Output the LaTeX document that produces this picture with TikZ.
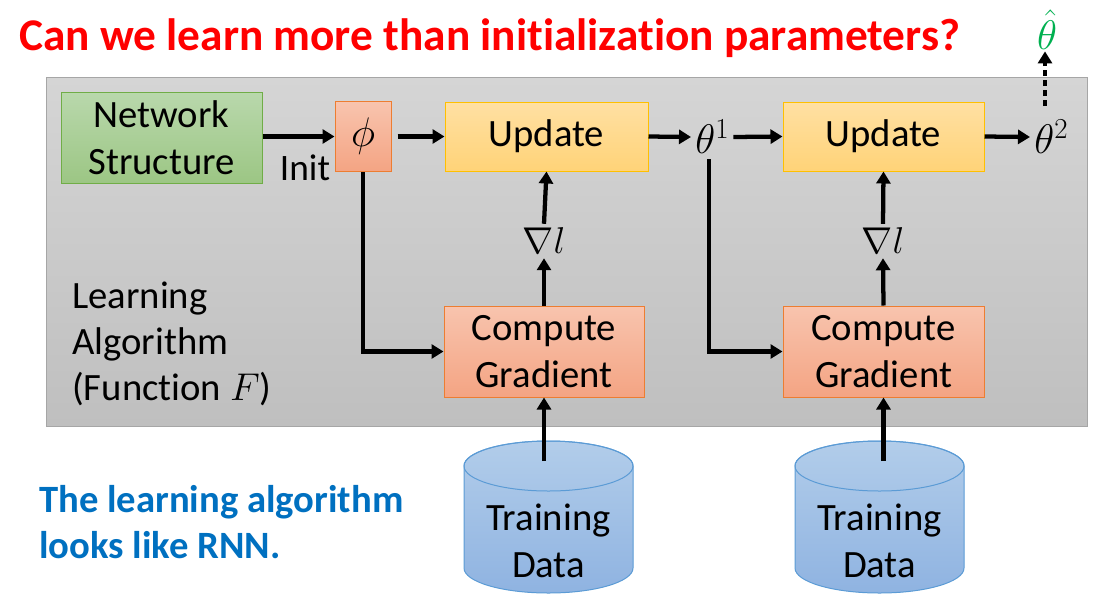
\RequirePackage{fix-cm}
\documentclass[tikz,border=0pt]{standalone}
\usepackage{fontspec}
\setmainfont{Carlito}[Ligatures=NoCommon]
\usetikzlibrary{arrows.meta,calc}

% palette
\definecolor{panelTop}{HTML}{D5D5D5}
\definecolor{panelBot}{HTML}{BFBFBF}
\definecolor{panelLine}{HTML}{A6A6A6}
\definecolor{grnTop}{HTML}{B9D8AC}
\definecolor{grnBot}{HTML}{9CC684}
\definecolor{grnLine}{HTML}{70AD47}
\definecolor{orgTop}{HTML}{F8C4AE}
\definecolor{orgBot}{HTML}{F4A483}
\definecolor{orgLine}{HTML}{ED7D31}
\definecolor{ylwTop}{HTML}{FFE0A3}
\definecolor{ylwBot}{HTML}{FFD378}
\definecolor{ylwLine}{HTML}{FFC000}
\definecolor{cylTop}{HTML}{B2CDEA}
\definecolor{cylBot}{HTML}{8FB3E1}
\definecolor{cylLine}{HTML}{5B9BD5}
\definecolor{titleRed}{HTML}{FF0000}
\definecolor{noteBlue}{HTML}{0070C0}
\definecolor{hatGreen}{HTML}{00B050}

\newcommand{\boxfont}{\fontsize{29}{35}\selectfont}
\newcommand{\mathlblfont}{\fontsize{28}{34}\selectfont}
\newcommand{\thetafont}{\fontsize{31}{36}\selectfont}

\tikzset{
  box/.style={draw, line width=0.75pt, inner sep=0pt, align=center, font=\boxfont},
  netbox/.style={box, draw=grnLine, top color=grnTop, bottom color=grnBot},
  orgbox/.style={box, draw=orgLine, top color=orgTop, bottom color=orgBot},
  updbox/.style={box, draw=ylwLine, top color=ylwTop, bottom color=ylwBot},
  lbl/.style={inner sep=1pt, font=\boxfont},
  mlbl/.style={inner sep=3pt, font=\mathlblfont},
  arr/.style={line width=3.2pt, -{Triangle[length=9pt,width=10.5pt]}},
  dotarr/.style={line width=3.2pt, dash pattern=on 4.5pt off 3pt, -{Triangle[length=9pt,width=10.5pt]}},
  cylfill/.style={top color=cylTop, bottom color=cylBot, draw=cylLine, line width=0.75pt},
}

\begin{document}
\begin{tikzpicture}[x=0.75pt,y=-0.75pt]
\useasboundingbox (0,0) rectangle (1109,611);

% heading
\node[anchor=base west, inner sep=0pt, text=titleRed,
      font=\fontsize{34}{40}\selectfont\bfseries] (title) at (19,50)
  {Can we learn more than initialization parameters?};

% learning-algorithm panel
\path[draw=panelLine, line width=0.75pt, top color=panelTop, bottom color=panelBot]
  (46,77) rectangle (1087,426);

% boxes
\node[netbox, minimum width=150.75pt, minimum height=68.25pt] (net) at (161.5,137.5) {Network\\Structure};
\node[orgbox, minimum width=42pt, minimum height=52.5pt, font=\fontsize{31}{36}\selectfont] (phi) at (363,136.5) {$\phi$};
\node[updbox, minimum width=152.25pt, minimum height=51.75pt] (up1) at (546.5,136.5) {\raisebox{-2pt}{Update}};
\node[updbox, minimum width=150.75pt, minimum height=51.75pt] (up2) at (883.5,136.5) {\raisebox{-2pt}{Update}};
\node[orgbox, minimum width=150pt, minimum height=68.25pt] (cg1) at (544,351.5) {Compute\\Gradient};
\node[orgbox, minimum width=150.75pt, minimum height=68.25pt] (cg2) at (883.5,351.5) {Compute\\Gradient};

% labels
\node[lbl, font=\fontsize{28}{34}\selectfont] (init) at (305,168) {Init};
\node[mlbl, anchor=west, font=\thetafont] (th1) at (691,137) {$\theta^{1}$};
\node[mlbl, anchor=west, font=\thetafont] (th2) at (1030,137) {$\theta^{2}$};
\node[mlbl, inner sep=1pt, text=hatGreen, font=\thetafont] (hat) at (1047,30) {$\hat{\theta}$};
\node[mlbl] (g1) at (544,241) {$\nabla l$};
\node[mlbl] (g2) at (883,241) {$\nabla l$};
\node[lbl, anchor=west, align=left, inner sep=0pt, font=\fontsize{29}{34.5}\selectfont] (alg) at (72,344)
  {Learning\\Algorithm\\(Function $F$)};
\coordinate (th1foot) at (709,159);
\coordinate (th2top) at (1045,106);

% training data stores
\path[cylfill] (464,466) -- (464,568)
  arc[start angle=180, end angle=0, x radius=84.5, y radius=25] -- (633,466)
  arc[start angle=0, end angle=-180, x radius=84.5, y radius=25] -- cycle;
\draw[cylLine, line width=0.75pt] (548.5,466) ellipse[x radius=84.5, y radius=25];
\node[lbl, align=center] (db1) at (548.5,541) {Training\\Data};
\coordinate (db1top) at (544,461);

\path[cylfill] (795,466) -- (795,568)
  arc[start angle=180, end angle=0, x radius=84.5, y radius=25] -- (964,466)
  arc[start angle=0, end angle=-180, x radius=84.5, y radius=25] -- cycle;
\draw[cylLine, line width=0.75pt] (879.5,466) ellipse[x radius=84.5, y radius=25];
\node[lbl, align=center] (db2) at (879.5,541) {Training\\Data};
\coordinate (db2top) at (883.5,461);

% note
\node[anchor=west, align=left, inner sep=0pt, text=noteBlue,
      font=\fontsize{29}{34.5}\selectfont\bfseries] (note) at (39,522)
  {The learning algorithm\\looks like RNN.};

% connectors
\draw[arr] (net.east |- phi.west) -- (phi.west);
\draw[arr] ([xshift=4.5pt]phi.east) -- (up1.west);
\draw[arr] (up1.east) -- (th1.west);
\draw[arr] (th1.east) -- (up2.west);
\draw[arr] (up2.east) -- (th2.west);
\draw[dotarr] (th2top) -- (hat.south -| th2top);

\draw[arr] (cg1.north) -- (g1.south);
\draw[arr] (g1.north) -- (up1.south);
\draw[arr] (cg2.north) -- (g2.south);
\draw[arr] (g2.north) -- (up2.south);

\draw[arr] (phi.south) |- (cg1.west);
\draw[arr] (th1foot) |- (cg2.west);

\draw[arr] (db1top) -- (cg1.south);
\draw[arr] (db2top) -- (cg2.south);
\end{tikzpicture}
\end{document}
